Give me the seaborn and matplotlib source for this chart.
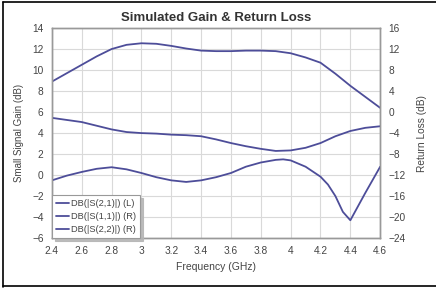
import matplotlib
matplotlib.use("Agg")
import matplotlib.pyplot as plt
import seaborn as sns
from matplotlib.lines import Line2D

sns.set_theme(style="whitegrid")
plt.rcParams['font.family'] = ['Liberation Sans', 'DejaVu Sans']

# ---- data ----
freq = [2.4, 2.5, 2.6, 2.7, 2.8, 2.9, 3.0, 3.1, 3.2, 3.3, 3.4, 3.5,
        3.6, 3.7, 3.8, 3.9, 4.0, 4.1, 4.2, 4.3, 4.4, 4.5, 4.6]
s21 = [8.9, 9.7, 10.5, 11.3, 12.0, 12.4, 12.55, 12.5, 12.3, 12.05, 11.85, 11.8,
       11.8, 11.85, 11.85, 11.8, 11.6, 11.2, 10.7, 9.65, 8.5, 7.45, 6.4]
s11 = [-1.1, -1.5, -1.9, -2.6, -3.3, -3.8, -4.0, -4.1, -4.3, -4.4, -4.6, -5.2,
       -5.9, -6.5, -7.0, -7.4, -7.3, -6.8, -5.9, -4.6, -3.6, -3.0, -2.7]
freq_s22 = [2.4, 2.5, 2.6, 2.7, 2.8, 2.9, 3.0, 3.1, 3.2, 3.3, 3.4, 3.5,
            3.6, 3.7, 3.8, 3.9, 3.95, 4.0, 4.1, 4.2, 4.25, 4.3, 4.35, 4.4,
            4.45, 4.5, 4.55, 4.6]
s22 = [-13.0, -12.1, -11.4, -10.8, -10.5, -10.9, -11.6, -12.4, -13.0, -13.3, -13.0, -12.4,
       -11.6, -10.4, -9.6, -9.1, -9.0, -9.2, -10.4, -12.3, -13.8, -16.0, -19.0, -20.6,
       -18.0, -15.4, -12.9, -10.4]

xticks = [2.4, 2.6, 2.8, 3.0, 3.2, 3.4, 3.6, 3.8, 4.0, 4.2, 4.4, 4.6]
xtick_labels = ["2.4", "2.6", "2.8", "3", "3.2", "3.4", "3.6", "3.8", "4", "4.2", "4.4", "4.6"]
left_ticks = [14, 12, 10, 8, 6, 4, 2, 0, -2, -4, -6]
right_ticks = [16, 12, 8, 4, 0, -4, -8, -12, -16, -20, -24]
series_names = ["DB(|S(2,1)|) (L)", "DB(|S(1,1)|) (R)", "DB(|S(2,2)|) (R)"]

line_color = "#4d4d99"
text_color = "#444444"
grid_color = "#d9d9d9"

fig = plt.figure(figsize=(4.36, 2.89), dpi=100)
fig.patch.set_facecolor("white")
ax = fig.add_axes([0.119, 0.176, 0.753, 0.727])
ax2 = ax.twinx()

sns.lineplot(x=freq, y=s21, ax=ax, color=line_color, linewidth=1.3, legend=False)
sns.lineplot(x=freq, y=s11, ax=ax2, color=line_color, linewidth=1.3, legend=False)
sns.lineplot(x=freq_s22, y=s22, ax=ax2, color=line_color, linewidth=1.3, legend=False)

ax.set_xlim(2.4, 4.6)
ax.set_ylim(-6, 14)
ax2.set_ylim(-24, 16)
ax.set_xticks(xticks)
ax.set_xticklabels(xtick_labels)
ax.set_yticks(left_ticks)
ax2.set_yticks(right_ticks)
ax2.grid(False)
ax.grid(True, color=grid_color, linewidth=0.8)
ax.set_facecolor("white")

for a in (ax, ax2):
    a.tick_params(axis='both', length=0, labelsize=7.3, colors=text_color, pad=6)
    for s in a.spines.values():
        s.set_color("#999999")
        s.set_linewidth(1.0)

ax.set_xlabel("Frequency (GHz)", fontsize=7.5, color=text_color, labelpad=4)
ax.set_ylabel("Small Signal Gain (dB)", fontsize=7, color=text_color, labelpad=6)
ax2.set_ylabel("Return Loss (dB)", fontsize=7.3, color=text_color, labelpad=8)
ax.set_title("Simulated Gain & Return Loss", fontsize=9.5, fontweight="bold",
             color="#333333", pad=5)

handles = [Line2D([0], [0], color=line_color, linewidth=1.3) for _ in series_names]
leg = ax2.legend(handles, series_names, loc="lower left", fontsize=6.7,
                 frameon=True, fancybox=False,
                 shadow={'color': '#b5b5b5', 'alpha': 0.9},
                 borderaxespad=0.0,
                 handlelength=1.4, handletextpad=0.3, labelspacing=0.45,
                 borderpad=0.4)
leg.get_frame().set_edgecolor("#999999")
leg.get_frame().set_linewidth(0.8)
for t in leg.get_texts():
    t.set_color(text_color)

# figure border (top, left, bottom)
fig.add_artist(Line2D([0.007, 1.0], [0.993, 0.993], transform=fig.transFigure, color="black", linewidth=1.2))
fig.add_artist(Line2D([0.007, 0.007], [0.007, 0.993], transform=fig.transFigure, color="black", linewidth=1.2))
fig.add_artist(Line2D([0.007, 1.0], [0.01, 0.01], transform=fig.transFigure, color="black", linewidth=1.2))

fig.savefig("out.png", dpi=100)
